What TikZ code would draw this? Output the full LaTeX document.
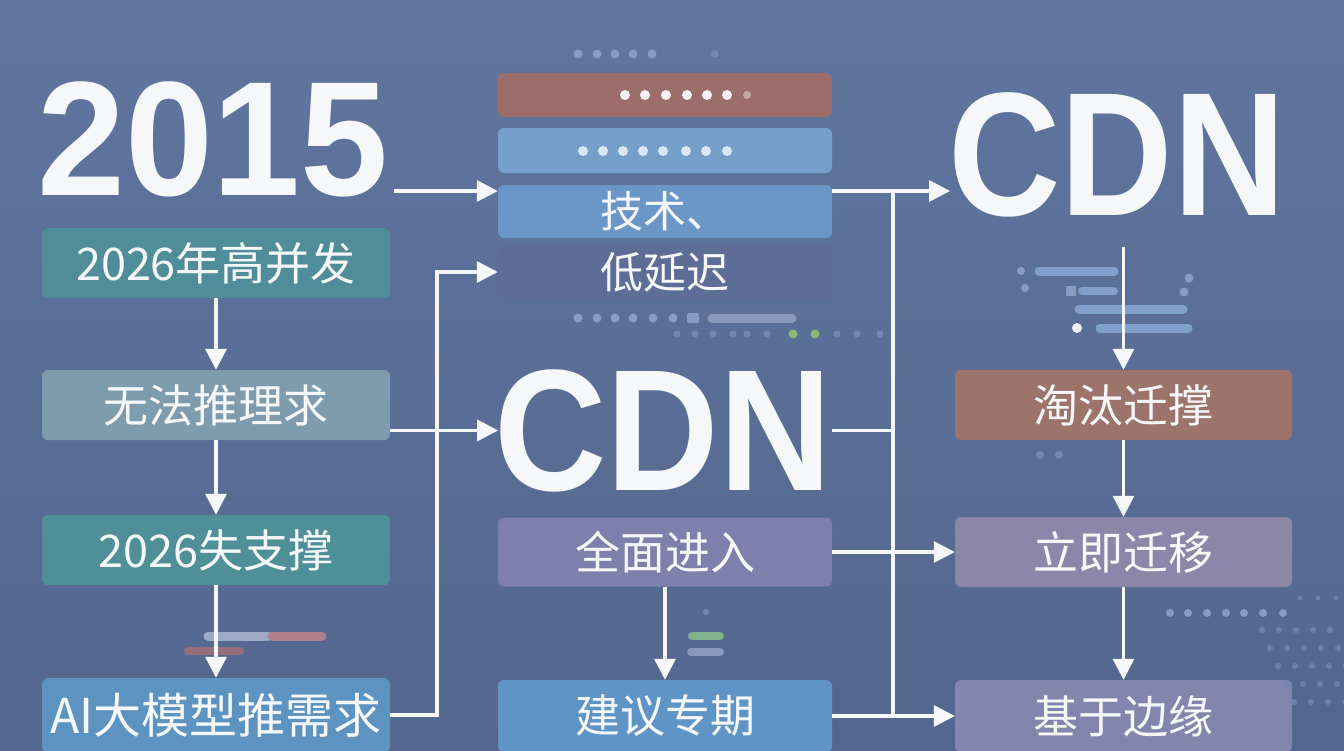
\documentclass[tikz,border=0pt]{standalone}
\usepackage{fontspec}
\setmainfont{Liberation Sans}
\newfontfamily\cjk{Noto Sans CJK SC}
\usetikzlibrary{arrows.meta}
\definecolor{bgtop}{HTML}{60769E}
\definecolor{bgbot}{HTML}{53668E}
\definecolor{txt}{HTML}{F6F7F8}
\definecolor{tealA}{HTML}{4F8D99}
\definecolor{greyT}{HTML}{7F9CAE}
\definecolor{tealB}{HTML}{4E8F98}
\definecolor{blueA}{HTML}{5C93C0}
\definecolor{rust}{HTML}{9C6E6B}
\definecolor{ltblue}{HTML}{749FCB}
\definecolor{techc}{HTML}{6A97C7}
\definecolor{latc}{HTML}{5E6D96}
\definecolor{purpA}{HTML}{7C80AB}
\definecolor{blueB}{HTML}{5F95C6}
\definecolor{rustR}{HTML}{9D746B}
\definecolor{mauve}{HTML}{8C86A8}
\definecolor{greyP}{HTML}{8286AD}
\definecolor{dotc}{HTML}{8A9CC4}
\definecolor{barc}{HTML}{82A0CC}
\definecolor{faint}{HTML}{7387B0}
\definecolor{pinkc}{HTML}{B0808F}
\definecolor{greenc}{HTML}{80B28C}
\definecolor{greenD}{HTML}{8FB878}
\tikzset{
  box/.style={rounded corners=6pt, inner sep=0pt, text=txt, font=\cjk\fontsize{45}{45}\selectfont, minimum height=70pt},
  lbox/.style={box, minimum width=348pt},
  mbox/.style={box, minimum width=334pt},
  rbox/.style={box, minimum width=337pt},
  big/.style={text=txt, inner sep=0pt, anchor=base},
  conn/.style={draw=txt, line width=3.2pt},
  arr/.style={conn, -{Triangle[length=21pt,width=21pt]}},
  bar/.style={line cap=round},
}
\begin{document}
\begin{tikzpicture}[x=1pt,y=-1pt]
\useasboundingbox (0,0) rectangle (1344,750);
\shade[top color=bgtop, bottom color=bgbot] (0,0) rectangle (1344,750);

% big titles
\node[big, font=\bfseries\fontsize{163}{163}\selectfont] (y2015) at (213,195) {\scalebox{0.97}[1]{2015}};
\node[big, inner ysep=30pt, font=\bfseries\fontsize{176}{176}\selectfont] (cdnR) at (1117,215) {\scalebox{0.885}[1]{CDN}};
\node[big, font=\bfseries\fontsize{173}{173}\selectfont] (cdnM) at (663,490) {\scalebox{0.9}[1]{CDN}};

% left column
\node[lbox, fill=tealA] (b1) at (216,263) {2026年高并发};
\node[lbox, fill=greyT] (b2) at (216,405) {无法推理求};
\node[lbox, fill=tealB] (b3) at (216,550) {2026失支撑};
\node[lbox, fill=blueA, minimum height=74pt, font=\cjk\fontsize{48}{48}\selectfont] (b4) at (216,715) {AI大模型推需求};

% middle column
\node[mbox, fill=rust, minimum height=44pt] (m1) at (665,95) {};
\node[mbox, fill=ltblue, minimum height=45pt] (m2) at (665,150.5) {};
\node[mbox, fill=techc, minimum height=53pt, font=\cjk\fontsize{43}{43}\selectfont] (tech) at (665,211.5) {技术、};
\node[mbox, fill=latc, minimum height=55pt, font=\cjk\fontsize{43}{43}\selectfont] (lat) at (665,272) {低延迟};
\node[mbox, fill=purpA, minimum height=69pt] (full) at (665,552) {全面进入};
\node[mbox, fill=blueB, minimum height=72pt] (sug) at (665,716) {建议专期};

% right column
\node[rbox, fill=rustR] (tao) at (1123.5,405) {淘汰迁撑};
\node[rbox, fill=mauve] (imm) at (1123.5,552) {立即迁移};
\node[rbox, fill=greyP, minimum height=72pt] (edge) at (1123.5,716) {基于边缘};

% decorations: top dots
\foreach \x in {578,597,615,633,652} \fill[dotc] (\x,54) circle (4.5pt);
\fill[faint] (715,54) circle (4pt);
\foreach \x in {625,645,666,687,707,727} \fill[white!92!rust] (\x,95) circle (5pt);
\fill[white!40!rust] (747,95) circle (4pt);
\foreach \x in {583,603,623,643,663,686,706,727} \fill[white!75!ltblue] (\x,151) circle (5pt);
\foreach \x in {578,597,615,633,653,673} \fill[dotc] (\x,318) circle (4.5pt);
\fill[dotc, rounded corners=2pt] (687,313) rectangle (699,323);
\draw[bar, line width=9pt, draw=faint!85!white] (712,318) -- (792,318);
\foreach \x in {677,695,713,733,747,767,837,857,880} \fill[faint] (\x,334) circle (3.5pt);
\fill[greenD] (793,334) circle (4.5pt);
\fill[greenD] (815,334) circle (4.5pt);

% left decorative bars
\draw[bar, line width=9pt, draw=faint!70!white] (208,636) -- (268,636);
\draw[bar, line width=9pt, draw=pinkc] (272,636) -- (322,636);
\draw[bar, line width=8pt, draw=pinkc!85!black] (188,651) -- (240,651);

% middle decorative bars
\fill[faint] (706,612) circle (3pt);
\draw[bar, line width=8pt, draw=greenc] (692,636) -- (720,636);
\draw[bar, line width=8pt, draw=faint!85!white] (691,652) -- (720,652);

% right decorative bars
\fill[dotc] (1021,271) circle (4pt);
\draw[bar, line width=9pt, draw=barc] (1039,271) -- (1114,271);
\fill[dotc] (1025,288) circle (4pt);
\fill[dotc, rounded corners=1pt] (1066,286) rectangle (1076,296);
\draw[bar, line width=8pt, draw=barc] (1082,291) -- (1114,291);
\draw[bar, line width=9pt, draw=barc] (1079,309) -- (1183,309);
\fill[white!85!barc] (1077,328) circle (5pt);
\draw[bar, line width=9pt, draw=barc] (1100,328) -- (1188,328);
\fill[dotc] (1189,278) circle (4.5pt);
\fill[dotc] (1184,292) circle (4.5pt);
\fill[faint] (1040,455) circle (4pt);
\fill[faint] (1059,455) circle (4pt);

% bottom-right dots
\foreach \x in {1170,1188,1207,1226,1244,1263,1283} \fill[dotc] (\x,613) circle (4pt);
\foreach \i in {0,...,4} {
  \foreach \j in {0,...,5} {
    \fill[faint, opacity=0.8] (1262+\j*17+\i*8,630+\i*18) circle (3pt);
  }
}
\foreach \x in {1300,1318,1336} \fill[faint, opacity=0.8] (\x,598) circle (2.5pt);

% connectors left column
\draw[arr] (b1) -- (b2);
\draw[arr] (b2) -- (b3);
\draw[arr] (b3) -- (b4);
\draw[arr] ([xshift=5pt,yshift=4pt]y2015.base east) coordinate (a1) -- (a1 -| tech.west);
\draw[arr] (b2.east |- cdnM.west) -- ([xshift=4pt]cdnM.west);
\draw[arr] (b4.east) -- (437,715) |- (lat.west);

% connectors middle to right
\coordinate (r1) at (893,191);
\coordinate (r2) at (893,716);
\draw[arr] (tech.east |- r1) -- (r1) -- ([xshift=2pt]cdnR.west |- r1);
\draw[conn] (r1) -- (r2);
\draw[conn] (cdnM.east) -- (cdnM.east -| r1);
\draw[arr] (full.east) -- (imm.west);
\draw[arr] (sug.east) -- (edge.west);
\draw[arr] (full) -- (sug);

% right column connectors
\draw[arr] (cdnR.south -| tao.north) -- (tao.north);
\draw[arr] (tao) -- (imm);
\draw[arr] (imm) -- (edge);
\end{tikzpicture}
\end{document}
